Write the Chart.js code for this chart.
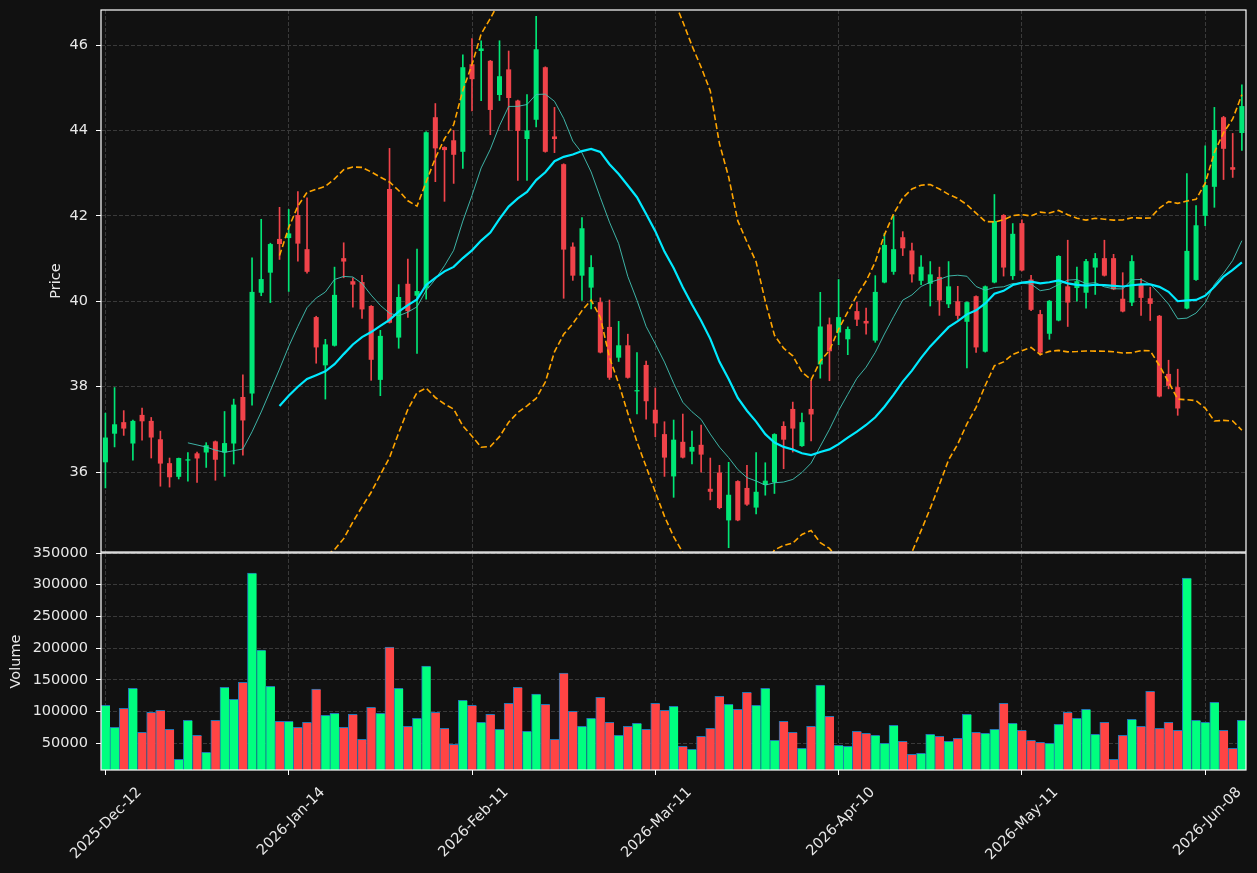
<!DOCTYPE html>
<html>
<head>
<meta charset="utf-8">
<script src="https://cdn.jsdelivr.net/npm/chart.js@4.4.1/dist/chart.umd.min.js"></script>
<style>
  body { margin: 0; background: #111111; }
  #wrap { position: relative; width: 1257px; height: 873px; }
  #priceChart { position: absolute; left: 0; top: 0; }
  #volumeChart { position: absolute; left: 0; top: 540px; }
</style>
</head>
<body>
<div id="wrap">
  <canvas id="priceChart" width="1257" height="560"></canvas>
  <canvas id="volumeChart" width="1257" height="333"></canvas>
</div>
<script>
// OHLC + volume, one entry per trading day (125 bars)
const opens = [36.23,36.90,37.17,36.67,37.34,37.20,36.77,36.21,35.89,36.27,36.44,36.46,36.72,36.46,36.67,37.76,37.84,40.20,40.67,41.46,
  41.48,42.02,41.22,39.63,38.50,38.96,41.01,40.47,40.45,39.89,38.16,42.63,39.15,40.41,40.13,40.31,44.31,43.61,43.77,43.50,
  45.55,45.86,45.63,44.83,45.43,44.70,43.80,44.25,45.48,43.86,43.21,41.28,40.60,40.32,39.98,39.40,38.68,38.97,37.89,38.51,
  37.46,36.89,35.90,36.71,36.48,36.64,35.61,35.99,34.87,35.79,35.63,35.17,35.70,35.76,37.08,37.48,36.61,37.48,38.52,39.46,
  39.27,39.11,39.77,39.54,39.08,40.44,40.69,41.50,41.19,40.48,40.41,40.57,39.93,40.00,39.52,40.12,38.82,40.44,42.02,40.59,
  41.83,40.51,39.70,39.24,39.55,40.35,40.31,40.20,40.79,41.01,41.01,40.06,39.97,40.39,40.07,39.66,38.30,37.99,39.83,40.50,
  42.00,42.68,44.31,43.14,43.94];
const highs = [37.38,37.98,37.44,37.22,37.50,37.28,36.96,36.33,36.33,36.46,36.47,36.69,36.73,37.42,37.71,38.28,41.02,41.92,41.36,42.20,
  42.15,42.57,42.42,39.65,39.11,40.80,41.37,40.55,40.61,39.90,39.32,43.58,40.39,40.99,41.22,43.97,44.63,43.62,44.00,45.77,
  46.15,46.10,45.64,46.10,45.86,44.71,44.84,46.67,45.49,44.54,43.22,41.37,41.96,41.07,40.08,40.03,39.53,39.23,38.80,38.60,
  37.97,37.18,37.22,37.36,36.96,37.10,36.33,36.16,36.23,35.80,36.16,36.46,36.22,36.90,37.18,37.64,37.38,38.15,40.21,39.61,
  40.51,39.40,39.98,39.84,40.60,41.59,42.00,41.63,41.36,41.07,40.93,40.80,40.93,40.35,39.99,40.13,40.36,42.50,42.03,41.82,
  41.91,40.61,39.79,40.02,41.07,41.43,40.80,40.98,41.12,41.43,41.10,40.67,41.07,40.53,40.33,39.67,38.62,38.41,42.99,42.24,
  43.64,44.54,44.33,43.93,45.07];
const lows = [35.63,36.59,36.86,36.28,36.75,36.33,35.67,35.65,35.84,35.79,35.76,36.11,35.81,35.90,36.19,36.40,37.57,40.13,39.97,40.98,
  40.23,40.94,40.66,38.55,37.71,38.95,40.55,39.86,39.60,38.15,37.79,39.49,38.90,39.62,38.78,40.05,42.80,42.34,42.76,43.11,
  44.46,44.70,43.90,44.70,44.00,42.83,42.83,44.08,43.49,43.48,40.07,40.49,40.02,39.82,38.79,38.17,38.59,38.20,37.36,37.24,
  36.83,35.90,35.41,36.33,36.19,36.00,35.35,35.14,34.23,34.86,35.22,35.02,35.46,35.50,36.08,36.47,36.60,36.73,38.20,38.14,
  38.98,38.75,39.43,39.23,39.04,40.43,40.63,41.07,40.45,40.39,39.89,39.67,39.85,39.58,38.44,38.80,38.81,40.43,40.59,40.51,
  40.71,39.78,38.74,39.11,39.54,39.41,40.00,39.84,40.16,40.59,40.27,39.75,39.90,39.67,39.55,37.76,37.95,37.33,39.82,40.49,
  41.77,42.20,42.85,42.90,43.53];
const closes = [36.81,37.12,37.02,37.20,37.19,36.81,36.20,35.88,36.33,36.30,36.32,36.63,36.29,36.68,37.58,37.21,40.22,40.52,41.34,41.34,
  41.59,41.35,40.69,38.92,38.99,40.15,40.93,40.39,39.81,38.63,39.19,39.50,40.10,39.77,40.24,43.96,43.58,43.54,43.43,45.48,
  45.20,45.92,44.48,45.27,44.76,43.99,44.00,45.90,43.50,43.80,41.21,40.60,41.71,40.80,38.80,38.21,38.97,38.21,37.92,37.66,
  37.14,36.34,36.76,36.34,36.59,36.41,35.54,35.16,35.47,34.87,35.24,35.54,35.80,36.89,36.76,37.02,37.17,37.35,39.41,38.83,
  39.63,39.35,39.57,39.48,40.22,41.32,41.22,41.24,40.63,40.81,40.63,40.02,40.35,39.66,39.98,38.92,40.35,41.88,40.79,41.58,
  40.72,39.80,38.80,40.01,41.06,39.97,40.47,40.94,41.01,40.60,40.28,39.76,40.94,40.08,39.94,37.77,38.02,37.49,41.18,41.78,
  42.72,44.01,43.57,43.08,44.57];
const volumes = [110000,75300,105300,136800,67400,99000,102100,72100,24700,86300,62600,35800,86300,138400,119500,146300,318400,196800,140000,84700,
  84700,75300,83200,135300,94200,97400,75300,95800,56300,106800,97400,201600,136800,76800,89500,171600,99000,73700,48400,117900,
  110000,83200,95800,72100,113200,138400,69000,127400,111600,56300,160500,100500,76800,89500,122600,83200,62600,76800,81600,72100,
  113200,102100,108400,45300,40500,61100,73700,124200,111600,103700,130500,110000,136800,54700,84700,67400,42100,76800,141600,92600,
  46800,45300,69000,65800,62600,50000,78400,53200,32600,34200,64200,61100,53200,57900,95800,67400,65800,72100,113200,81600,
  70500,54700,51600,50000,80000,99000,89500,103700,64200,83200,24700,62600,87900,76800,132100,73700,83200,70500,310500,86300,
  83200,114700,70500,42100,86300];

const xTickIndex = [0, 20, 40, 60, 80, 100, 120];
const xTickLabels = ['2025-Dec-12', '2026-Jan-14', '2026-Feb-11', '2026-Mar-11', '2026-Apr-10', '2026-May-11', '2026-Jun-08'];
const priceTicks = [36, 38, 40, 42, 44, 46];
const volumeTicks = [50000, 100000, 150000, 200000, 250000, 300000, 350000];

const UP = '#00e676', DOWN = '#f0434a';
const VOL_UP = '#00ff7f', VOL_DOWN = '#ff4444';
const GRID = '#3a3a3a';
const TEXT = '#e8e8e8';
const FONT = { family: 'DejaVu Sans', size: 14.5 };

// moving averages / bollinger from the closes
function sma(period) {
  return closes.map((c, i) => {
    if (i < period - 1) return null;
    let s = 0;
    for (let k = i - period + 1; k <= i; k++) s += closes[k];
    return s / period;
  });
}
function band(period, mult, mid) {
  return closes.map((c, i) => {
    if (mid[i] === null) return null;
    let s = 0;
    for (let k = i - period + 1; k <= i; k++) s += (closes[k] - mid[i]) ** 2;
    return mid[i] + mult * Math.sqrt(s / (period - 1));
  });
}
const ma10 = sma(10);
const ma20 = sma(20);
const bbUpper = band(20, 2, ma20);
const bbLower = band(20, -2, ma20);

const isUp = closes.map((c, i) => c >= opens[i]);
const toPts = arr => arr.map((v, i) => ({ x: i, y: v })).filter(p => p.y !== null);

const xMin = -0.48, xMax = 124.45;

// white frame round the plot area
const framePlugin = {
  id: 'frame',
  afterDraw(chart) {
    const { ctx, chartArea: a } = chart;
    ctx.save();
    ctx.strokeStyle = '#ffffff';
    ctx.lineWidth = 1.2;
    ctx.strokeRect(a.left, a.top, a.right - a.left, a.bottom - a.top);
    ctx.restore();
  }
};

function xScale(showLabels) {
  return {
    type: 'linear', min: xMin, max: xMax, offset: false,
    afterBuildTicks: s => { s.ticks = xTickIndex.map(v => ({ value: v })); },
    afterFit: s => {
      s.height = showLabels ? 103 : 0;
      s.paddingLeft = 0; s.paddingRight = 0;
    },
    ticks: {
      display: showLabels, color: TEXT, font: FONT, autoSkip: false,
      maxRotation: 45, minRotation: 45, labelOffset: 34, padding: 9,
      callback: v => xTickLabels[xTickIndex.indexOf(v)]
    },
    grid: { offset: false, color: GRID, drawTicks: showLabels, tickColor: '#ffffff', tickLength: 5, tickBorderDash: [] },
    border: { display: false, dash: [4, 2] }
  };
}

function yScale(min, max, ticks, title, titlePad) {
  return {
    min: min, max: max,
    afterBuildTicks: s => { s.ticks = ticks.map(v => ({ value: v })); },
    afterFit: s => {
      s.width = 101;
      s.paddingTop = 0; s.paddingBottom = 0;
    },
    ticks: { color: TEXT, font: FONT, padding: 8, callback: v => String(v) },
    grid: { color: GRID, tickColor: '#ffffff', tickLength: 5, tickBorderDash: [] },
    border: { display: false, dash: [4, 2] },
    title: { display: true, text: title, color: TEXT, font: FONT, padding: { top: titlePad, bottom: 0 } }
  };
}

new Chart(document.getElementById('priceChart').getContext('2d'), {
  type: 'bar',
  data: {
    datasets: [
      {
        label: 'wick',
        data: closes.map((c, i) => ({ x: i, y: [lows[i], highs[i]] })),
        backgroundColor: isUp.map(u => u ? UP : DOWN),
        maxBarThickness: 1, barPercentage: 1, categoryPercentage: 1,
        grouped: false, order: 3
      },
      {
        label: 'body',
        data: closes.map((c, i) => ({ x: i, y: [opens[i], closes[i]] })),
        backgroundColor: isUp.map(u => u ? UP : DOWN),
        barPercentage: 0.55, categoryPercentage: 1,
        grouped: false, order: 2
      },
      {
        type: 'line', label: 'MA10', data: toPts(ma10),
        borderColor: 'rgba(66, 196, 182, 0.9)', borderWidth: 1, pointRadius: 0, order: 1
      },
      {
        type: 'line', label: 'MA20', data: toPts(ma20),
        borderColor: '#00eaff', borderWidth: 2.2, pointRadius: 0, order: 0
      },
      {
        type: 'line', label: 'BB upper', data: toPts(bbUpper),
        borderColor: '#ffa500', borderWidth: 1.6, borderDash: [6, 3], pointRadius: 0, order: 0
      },
      {
        type: 'line', label: 'BB lower', data: toPts(bbLower),
        borderColor: '#ffa500', borderWidth: 1.6, borderDash: [6, 3], pointRadius: 0, order: 0
      }
    ]
  },
  options: {
    responsive: false,
    animation: false,
    layout: { padding: { left: 0, top: 10, right: 11, bottom: 8 } },
    plugins: { legend: { display: false }, tooltip: { enabled: false } },
    scales: {
      x: xScale(false),
      y: yScale(34.13, 46.82, priceTicks, 'Price', 48)
    }
  },
  plugins: [framePlugin]
});

new Chart(document.getElementById('volumeChart').getContext('2d'), {
  type: 'bar',
  data: {
    datasets: [{
      label: 'Volume',
      data: volumes.map((v, i) => ({ x: i, y: v })),
      backgroundColor: isUp.map(u => u ? VOL_UP : VOL_DOWN),
      borderColor: '#1f77b4',
      borderWidth: { top: 1, left: 1, right: 0, bottom: 0 },
      borderSkipped: false,
      barPercentage: 1, categoryPercentage: 1
    }]
  },
  options: {
    responsive: false,
    animation: false,
    layout: { padding: { left: 0, top: 13, right: 11, bottom: 0 } },
    plugins: { legend: { display: false }, tooltip: { enabled: false } },
    scales: {
      x: xScale(true),
      y: yScale(7900, 350000, volumeTicks, 'Volume', 8)
    }
  },
  plugins: [framePlugin]
});
</script>
</body>
</html>
